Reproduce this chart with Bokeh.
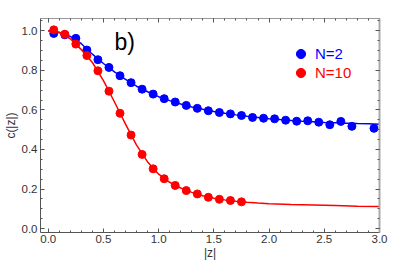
from bokeh.plotting import figure
from bokeh.models import (LinearAxis, SingleIntervalTicker, PrintfTickFormatter,
                          Legend, LegendItem, Label, Range1d, CustomLabelingPolicy)
from bokeh.embed import file_html
from bokeh.resources import INLINE

# ---- data ----
z_n2 = [0.05, 0.15, 0.25, 0.35, 0.45, 0.55, 0.65, 0.75, 0.85, 0.95, 1.05, 1.15,
        1.25, 1.35, 1.45, 1.55, 1.65, 1.75, 1.85, 1.95, 2.05, 2.15, 2.25, 2.35,
        2.45, 2.55, 2.65, 2.75, 2.95]
c_n2 = [0.987, 0.980, 0.962, 0.903, 0.854, 0.815, 0.773, 0.738, 0.705, 0.680,
        0.657, 0.640, 0.623, 0.608, 0.596, 0.587, 0.580, 0.572, 0.562, 0.558,
        0.555, 0.548, 0.543, 0.545, 0.538, 0.525, 0.542, 0.517, 0.507]

z_n10 = [0.05, 0.15, 0.25, 0.35, 0.45, 0.55, 0.65, 0.75, 0.85, 0.95, 1.05,
         1.15, 1.25, 1.35, 1.45, 1.55, 1.65, 1.75]
c_n10 = [1.005, 0.983, 0.933, 0.875, 0.798, 0.695, 0.583, 0.473, 0.375, 0.302,
         0.252, 0.218, 0.192, 0.175, 0.158, 0.148, 0.142, 0.135]

z_fit2 = [0.0, 0.1, 0.2, 0.3, 0.4, 0.5, 0.6, 0.7, 0.8, 0.9, 1.0, 1.1, 1.2, 1.3,
          1.4, 1.5, 1.6, 1.7, 1.8, 1.9, 2.0, 2.1, 2.2, 2.3, 2.4, 2.5, 2.6, 2.7,
          2.8, 2.9, 3.0]
c_fit2 = [1.0, 0.992, 0.972, 0.935, 0.882, 0.835, 0.793, 0.755, 0.720, 0.692,
          0.667, 0.647, 0.630, 0.615, 0.603, 0.592, 0.583, 0.575, 0.568, 0.562,
          0.556, 0.551, 0.547, 0.543, 0.540, 0.537, 0.535, 0.533, 0.531, 0.530,
          0.528]

z_fit10 = [0.0, 0.1, 0.2, 0.3, 0.4, 0.5, 0.6, 0.7, 0.8, 0.9, 1.0, 1.1, 1.2,
           1.3, 1.4, 1.5, 1.6, 1.7, 1.8, 1.9, 2.0, 2.2, 2.4, 2.6, 2.8, 3.0]
c_fit10 = [1.0, 0.993, 0.960, 0.905, 0.840, 0.748, 0.640, 0.528, 0.422, 0.337,
           0.275, 0.234, 0.205, 0.183, 0.166, 0.153, 0.145, 0.138, 0.133, 0.129,
           0.126, 0.122, 0.119, 0.116, 0.113, 0.111]

label_n2 = "N=2"
label_n10 = "N=10"
panel_tag = "b)"

BLUE = "#0000ff"
RED = "#ff0000"
FONT = "Liberation Sans"

p = figure(width=391, height=262, output_backend="svg", toolbar_location=None,
           x_range=Range1d(-0.07, 3.0), y_range=Range1d(-0.02, 1.0625),
           min_border_left=31, min_border_right=12, min_border_top=18,
           min_border_bottom=26, x_axis_label="|z|", y_axis_label="c(|z|)")
p.outline_line_color = None
p.xgrid.visible = False
p.ygrid.visible = False
p.background_fill_color = "white"
p.border_fill_color = "white"

def style_axis(ax, ticker, labels=True, color="#555555", width=1.0):
    ax.ticker = ticker
    ax.axis_line_color = color
    ax.axis_line_width = width
    ax.major_tick_line_color = "#555555"
    ax.minor_tick_line_color = "#555555"
    ax.major_tick_in = 4
    ax.major_tick_out = 0
    ax.minor_tick_in = 2
    ax.minor_tick_out = 0
    if labels:
        ax.formatter = PrintfTickFormatter(format="%.1f")
        ax.major_label_text_font = FONT
        ax.major_label_text_font_size = "11.5px"
        ax.major_label_text_color = "#333333"
        ax.major_label_standoff = 3
        ax.axis_label_text_font = FONT
        ax.axis_label_text_font_size = "12px"
        ax.axis_label_text_font_style = "normal"
        ax.axis_label_text_color = "#333333"
        ax.axis_label_standoff = 1
    else:
        ax.major_label_policy = CustomLabelingPolicy(code="return []")
        ax.major_label_text_font_size = "1px"
        ax.major_label_standoff = 0

xt = lambda: SingleIntervalTicker(interval=0.5, num_minor_ticks=5)
yt = lambda: SingleIntervalTicker(interval=0.2, num_minor_ticks=4)

style_axis(p.xaxis[0], xt())
style_axis(p.yaxis[0], yt())
p.xaxis[0].axis_label_standoff = 0
p.xaxis[0].major_label_standoff = 2

top = LinearAxis()
style_axis(top, xt(), labels=False, color="#999999", width=1.0)
p.add_layout(top, "above")
right = LinearAxis()
style_axis(right, yt(), labels=False, color="#aaaaaa", width=2.0)
p.add_layout(right, "right")

# fit curves and data
p.line(z_fit2, c_fit2, line_color=BLUE, line_width=1.5)
r2 = p.scatter(z_n2, c_n2, size=8, fill_color=BLUE, line_color=BLUE)
p.line(z_fit10, c_fit10, line_color=RED, line_width=1.5)
r10 = p.scatter(z_n10, c_n10, size=8, fill_color=RED, line_color=RED)

def make_legend(renderer, text, color, loc):
    lg = Legend(items=[LegendItem(label=text, renderers=[renderer])],
                location=loc, orientation="vertical")
    lg.border_line_color = None
    lg.background_fill_alpha = 0
    lg.padding = 0
    lg.margin = 0
    lg.spacing = 0
    lg.glyph_width = 23
    lg.glyph_height = 23
    lg.label_standoff = 3
    lg.label_text_font = FONT
    lg.label_text_font_size = "15px"
    lg.label_text_color = color
    lg.label_height = 23
    p.add_layout(lg)

make_legend(r2, label_n2, BLUE, (249, 167))
make_legend(r10, label_n10, RED, (249, 148))

p.add_layout(Label(x=0.6, y=0.945, text=panel_tag, text_font=FONT,
                   text_font_size="23px", text_color="black",
                   text_baseline="alphabetic"))

open("out.html", "w").write(file_html(p, INLINE))
